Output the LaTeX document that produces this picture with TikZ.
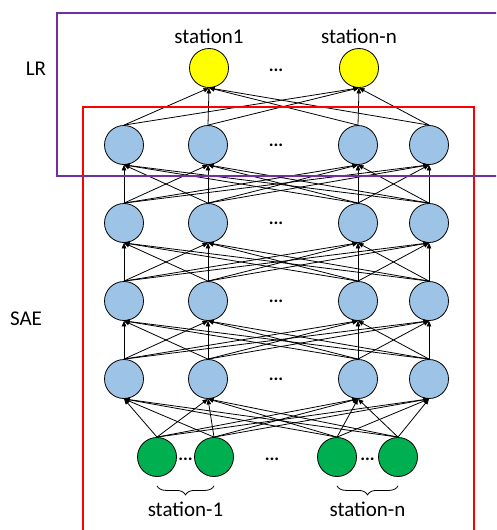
\documentclass[tikz,border=0pt]{standalone}
\usepackage{fontspec}
\setmainfont{Carlito}
\usetikzlibrary{arrows.meta, positioning, decorations.pathreplacing}
\definecolor{LayerBlue}{HTML}{9DC3E6}
\definecolor{InputGreen}{HTML}{00B050}
\definecolor{OutputYellow}{HTML}{FFFF00}
\definecolor{FramePurple}{HTML}{7030A0}
\definecolor{FrameRed}{HTML}{FF0000}

\begin{document}
\begin{tikzpicture}[x=1pt, y=-1pt,
    neuron/.style={circle, draw=black, line width=0.8pt, minimum size=39pt, inner sep=0pt},
    link/.style={-{Triangle[length=5.5pt,width=4.5pt]}, line width=0.8pt},
    dots/.style={font=\bfseries\fontsize{18}{18}\selectfont, inner sep=0pt},
    lbl/.style={font=\fontsize{21}{21}\selectfont, inner sep=0pt},
    bracket/.style={decorate, decoration={brace, mirror, amplitude=9pt}, line width=0.8pt}]
    \clip (0,0) rectangle (496,530);

    % hidden layers of the SAE, top to bottom
    \foreach \l/\y in {1/145,2/223,3/301,4/379} {
        \foreach \i/\x in {1/124,2/208,3/358,4/429}
            \node[neuron, fill=LayerBlue] (h\l\i) at (\x,\y) {};
        \node[dots] (hdots\l) at (276,\y) {...};
    }

    % inputs
    \foreach \i/\x in {1/157,2/214,3/337,4/398}
        \node[neuron, fill=InputGreen] (g\i) at (\x,457) {};
    \node[dots] (gdots1) at (185.5,459) {...};
    \node[dots] (gdots2) at (272,459) {...};
    \node[dots] (gdots3) at (367.5,459) {...};

    % outputs
    \node[neuron, fill=OutputYellow] (o1) at (209,68) {};
    \node[neuron, fill=OutputYellow] (o2) at (359,68) {};
    \node[dots] (odots) at (276,70) {...};
    \node[lbl] (o1lbl) at (209,36) {station1};
    \node[lbl] (o2lbl) at (359,36) {station-n};

    % connections
    \foreach \i in {1,...,4}
        \foreach \j in {1,...,4}
            \draw[link] (g\i.north) -- (h4\j.south);
    \foreach \l [evaluate=\l as \k using int(\l-1)] in {2,3,4}
        \foreach \i in {1,...,4}
            \foreach \j in {1,...,4}
                \draw[link] (h\l\i.north) -- (h\k\j.south);
    \foreach \i in {1,...,4}
        \foreach \j in {1,2}
            \draw[link] (h1\i.north) -- (o\j.south);

    % station groups
    \draw[bracket] ([yshift=-9pt]g1.south) -- ([yshift=-9pt]g2.south)
        node[midway, below=16pt, lbl] (in1lbl) {station-1};
    \draw[bracket] ([yshift=-9pt]g3.south) -- ([yshift=-9pt]g4.south)
        node[midway, below=16pt, lbl] (in2lbl) {station-n};

    % frames
    \draw[FrameRed, line width=2pt] (83,107) rectangle (474,545);
    \draw[FramePurple, line width=2pt] (57,13) rectangle (510,176);
    \node[lbl] (lrlbl) at (36,69) {LR};
    \node[lbl] (saelbl) at (26,319) {SAE};
\end{tikzpicture}
\end{document}
